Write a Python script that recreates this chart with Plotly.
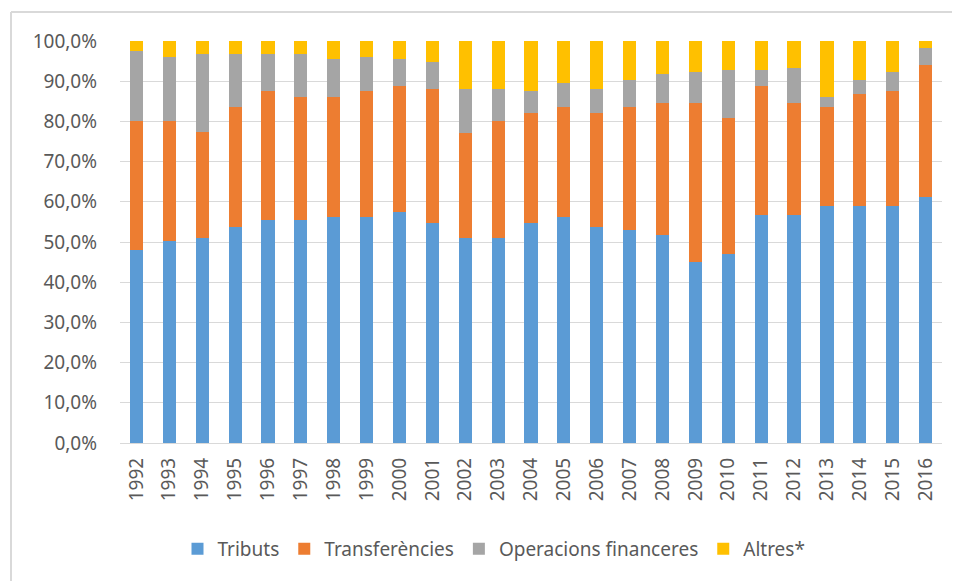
import plotly.graph_objects as go

years = [str(y) for y in range(1992, 2017)]

tributs = [48.1, 50.3, 51.0, 53.8, 55.4, 55.4, 56.1, 56.1, 57.5, 54.8,
           51.0, 51.0, 54.8, 56.1, 53.8, 53.1, 51.7, 45.0, 47.0, 56.8,
           56.8, 59.0, 59.0, 59.0, 61.1]
transferencies = [32.0, 29.8, 26.4, 29.9, 32.2, 30.7, 30.0, 31.5, 31.3, 33.3,
                  26.1, 29.1, 27.4, 27.6, 28.4, 30.6, 32.8, 39.5, 33.9, 32.0,
                  27.7, 24.7, 27.8, 28.6, 33.0]
operacions = [17.4, 16.0, 19.4, 13.1, 9.2, 10.7, 9.3, 8.5, 6.6, 6.7,
              11.0, 8.0, 5.4, 5.9, 5.9, 6.6, 7.2, 7.9, 11.8, 3.9,
              8.9, 2.4, 3.5, 4.8, 4.1]
altres = [2.5, 3.9, 3.2, 3.2, 3.2, 3.2, 4.6, 3.9, 4.6, 5.2,
          11.9, 11.9, 12.4, 10.4, 11.9, 9.7, 8.3, 7.6, 7.3, 7.3,
          6.6, 13.9, 9.7, 7.6, 1.8]

series_names = ["Tributs", "Transferències", "Operacions financeres", "Altres*"]
series_colors = ["#5B9BD5", "#ED7D31", "#A5A5A5", "#FFC000"]

y_tickvals = [0, 10, 20, 30, 40, 50, 60, 70, 80, 90, 100]
y_ticktext = ["0,0%", "10,0%", "20,0%", "30,0%", "40,0%", "50,0%",
              "60,0%", "70,0%", "80,0%", "90,0%", "100,0%"]

fig = go.Figure()
for name, vals, col in zip(series_names, [tributs, transferencies, operacions, altres], series_colors):
    fig.add_trace(go.Bar(x=years, y=vals, name=name, marker_color=col,
                         marker_line_width=0))

OFF = 8  # page body margin offset
W, H = 960, 581
L, T = 120 - OFF, 41 - OFF
pw, ph = 822, 402
R = W - L - pw
B = H - T - ph

def px_x(px):
    return (px - OFF - L) / pw

def px_y(py):
    return (T + ph - (py - OFF)) / ph

fig.update_layout(
    width=W, height=H,
    barmode="stack",
    bargap=0.6,
    margin=dict(l=L, r=R, t=T, b=B, autoexpand=False),
    plot_bgcolor="white",
    paper_bgcolor="white",
    font=dict(family="Noto Sans, Liberation Sans, sans-serif", size=19, color="#595959"),
    showlegend=True,
    legend=dict(orientation="h", x=px_x(494), xanchor="center",
                y=px_y(549), yanchor="middle",
                font=dict(size=19, color="#595959"),
                itemsizing="constant", traceorder="normal"),
    xaxis=dict(tickangle=-90, showgrid=False, showline=False, ticks="",
               tickfont=dict(size=19, color="#595959"), ticklabelstandoff=10,
               automargin=False),
    yaxis=dict(range=[0, 100], tickvals=y_tickvals, ticktext=y_ticktext,
               showgrid=True, gridcolor="#D9D9D9", gridwidth=1.3,
               zeroline=True, zerolinecolor="#D9D9D9", zerolinewidth=1.3,
               showline=False, ticks="", ticklabelstandoff=22,
               tickfont=dict(size=19, color="#595959"), automargin=False),
    shapes=[
        dict(type="line", xref="paper", yref="paper",
             x0=px_x(11), x1=px_x(962), y0=px_y(12), y1=px_y(12),
             line=dict(color="#D9D9D9", width=2)),
        dict(type="line", xref="paper", yref="paper",
             x0=px_x(11), x1=px_x(11), y0=px_y(12), y1=px_y(583),
             line=dict(color="#D9D9D9", width=2)),
    ],
)

fig.write_html("out.html")
